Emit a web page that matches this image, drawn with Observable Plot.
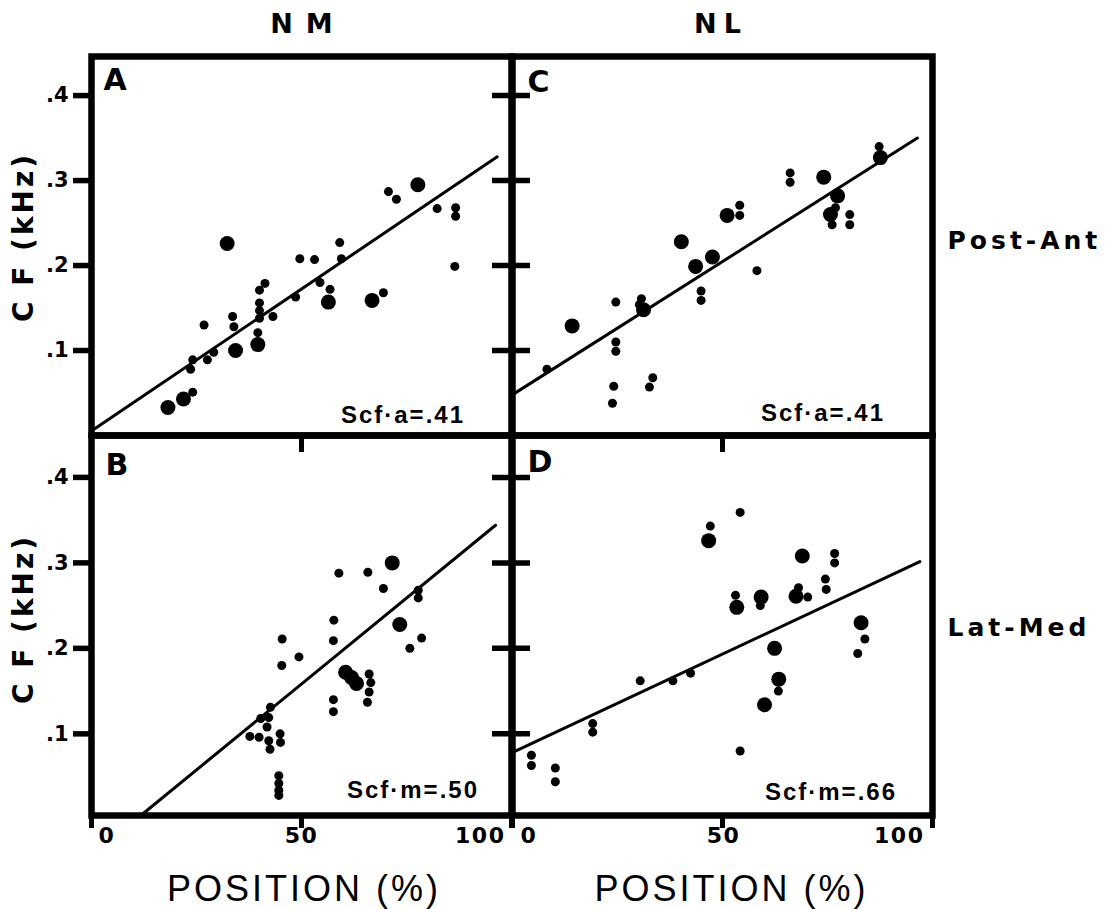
<!DOCTYPE html>
<html>
<head>
<meta charset="utf-8">
<script src="https://cdn.jsdelivr.net/npm/d3@7"></script>
<script src="https://cdn.jsdelivr.net/npm/@observablehq/plot@0.6"></script>
<style>
  html, body { margin: 0; padding: 0; background: #fff; }
  #chart { position: relative; width: 1113px; height: 909px; overflow: hidden; background: #fff; }
  #chart svg { position: absolute; left: 0; top: 0; }
</style>
</head>
<body>
<div id="chart"></div>
<script>
// ---------- data ----------
const columns = ["NM", "NL"];
const rows = ["Post-Ant", "Lat-Med"];
const panelLetters = ["A", "C", "B", "D"];
const slopeNotes = ["Scf·a=.41", "Scf·a=.41", "Scf·m=.50", "Scf·m=.66"];
const xTicks = [0, 50, 100];
const yTicks = [0.1, 0.2, 0.3, 0.4];
const xLabel = "POSITION (%)";
const yLabel = "C F (kHz)";

// [position (%), CF (kHz), dot class: 1 = small, 2 = large]
const NM_PostAnt = [
  [18.2,.033,2],[21.9,.043,2],[24.1,.051,1],[23.6,.078,1],[24.1,.089,1],[27.6,.089,1],[29.1,.098,1],
  [26.8,.130,1],[34.3,.100,2],[32.3,.226,2],[33.6,.140,1],[33.9,.128,1],[39.6,.107,2],[39.6,.121,1],
  [40.0,.171,1],[41.3,.179,1],[40.0,.156,1],[40.0,.147,1],[40.0,.138,1],[43.2,.140,1],[48.6,.163,1],
  [49.6,.208,1],[53.1,.207,1],[54.4,.180,1],[56.8,.172,1],[56.4,.157,2],[59.1,.227,1],[59.5,.208,1],
  [66.8,.159,2],[69.5,.168,1],[70.7,.287,1],[72.6,.278,1],[77.7,.295,2],[82.3,.267,1],[86.7,.268,1],
  [86.7,.258,1],[86.5,.199,1]
];
const NL_PostAnt = [
  [8.2,.078,1],[14.2,.129,2],[24.6,.157,1],[24.6,.110,1],[24.6,.099,1],[24.1,.058,1],[23.8,.038,1],
  [30.7,.161,1],[31.2,.148,2],[30.2,.154,1],[33.4,.068,1],[32.6,.057,1],[40.2,.228,2],[43.6,.199,2],
  [47.6,.210,2],[44.9,.170,1],[44.9,.159,1],[51.1,.259,2],[54.1,.271,1],[54.1,.259,1],[58.2,.194,1],
  [66.1,.309,1],[66.1,.298,1],[74.1,.304,2],[77.4,.282,2],[76.9,.268,1],[75.7,.260,2],[76.1,.248,1],
  [80.3,.260,1],[80.3,.248,1],[87.3,.340,1],[87.6,.327,2]
];
const NM_LatMed = [
  [37.7,.097,1],[39.9,.096,1],[40.3,.118,1],[42.6,.131,1],[42.2,.119,1],[41.8,.108,1],[42.2,.092,1],
  [42.5,.082,1],[44.9,.100,1],[45.0,.090,1],[44.6,.051,1],[44.6,.042,1],[44.6,.034,1],[44.6,.028,1],
  [45.4,.211,1],[45.3,.180,1],[49.4,.190,1],[57.7,.233,1],[57.6,.209,1],[58.9,.288,1],[57.6,.140,1],
  [57.6,.126,1],[60.5,.172,2],[61.9,.166,2],[63.1,.159,2],[66.1,.170,1],[66.5,.160,1],[66.1,.149,1],
  [65.7,.137,1],[65.8,.289,1],[71.6,.300,2],[69.5,.270,1],[73.4,.228,2],[75.8,.200,1],[78.6,.212,1],
  [77.8,.268,1],[77.8,.259,1]
];
const NL_LatMed = [
  [4.5,.075,1],[4.5,.063,1],[10.2,.060,1],[10.2,.044,1],[19.1,.112,1],[19.1,.102,1],[30.4,.162,1],
  [38.2,.162,1],[42.4,.171,1],[47.1,.343,1],[46.7,.326,2],[54.2,.359,1],[54.2,.080,1],[53.1,.262,1],
  [53.4,.248,2],[59.2,.260,2],[59.0,.250,1],[60.0,.134,2],[62.4,.200,2],[63.4,.164,2],[63.3,.150,1],
  [69.0,.308,2],[68.1,.271,1],[67.5,.261,2],[70.3,.260,1],[74.5,.281,1],[74.7,.269,1],[76.7,.311,1],
  [76.7,.300,1],[83.0,.230,2],[83.9,.211,1],[82.2,.194,1]
];

// regression line end points [position, CF]
const fit_NM_PostAnt = [[0.5,.007],[96.6,.328]];
const fit_NL_PostAnt = [[0.3,.049],[96.4,.350]];
const fit_NM_LatMed  = [[12.1,.006],[96.2,.344]];
const fit_NL_LatMed  = [[0.3,.079],[97.0,.3015]];

// ---------- layout ----------
const W = 1113, H = 909;
const colGeom = [{ml: 91, mr: 602}, {ml: 512, mr: 181}];
const rowGeom = [{mt: 56, mb: 474, y: [0, 0.446]}, {mt: 435, mb: 94, y: [0.0045, 0.449]}];
const BOLD = "DejaVu Sans";
const fmtY = d => d3.format(".1f")(d).replace(/^0/, "");

const panels = [
  {pts: NM_PostAnt, fit: fit_NM_PostAnt, col: 0, row: 0, i: 0, lx: 12, ly: 12, nx: -46.5, ny: -13},
  {pts: NL_PostAnt, fit: fit_NL_PostAnt, col: 1, row: 0, i: 1, lx: 15, ly: 14, nx: -47.5, ny: -15},
  {pts: NM_LatMed,  fit: fit_NM_LatMed,  col: 0, row: 1, i: 2, lx: 14, ly: 18, nx: -32.5, ny: -18},
  {pts: NL_LatMed,  fit: fit_NL_LatMed,  col: 1, row: 1, i: 3, lx: 15, ly: 15, nx: -35.5, ny: -16}
];

function build(p) {
  const cg = colGeom[p.col], rg = rowGeom[p.row];
  const yDom = rg.y;
  const marks = [
    Plot.frame({strokeWidth: 6.5, stroke: "#000"}),
    Plot.line(p.fit, {x: d => d[0], y: d => d[1], stroke: "#000", strokeWidth: 3}),
    Plot.dot(p.pts, {x: d => d[0], y: d => d[1], r: d => d[2], fill: "#000"}),
    Plot.text([panelLetters[p.i]], {text: d => d, frameAnchor: "top-left", textAnchor: "start", lineAnchor: "top",
      dx: p.lx, dy: p.ly, fontSize: 30, fontWeight: "bold", fontFamily: BOLD}),
    Plot.text([slopeNotes[p.i]], {text: d => d, frameAnchor: "bottom-right", textAnchor: "end", lineAnchor: "bottom",
      dx: p.nx, dy: p.ny, fontSize: 24, fontWeight: "bold", fontFamily: "Liberation Sans", ariaDescription: "ls-2"})
  ];
  if (p.col === 0) {
    marks.push(Plot.ruleY(yTicks, {y: d => d, x1: xTicks[0], x2: xTicks[0], insetLeft: -18, strokeWidth: 5.5}));
    marks.push(Plot.text(yTicks, {y: d => d, frameAnchor: "left", dx: -23, textAnchor: "end", lineAnchor: "middle",
      text: fmtY, fontSize: 21, fontWeight: "bold", fontFamily: BOLD}));
    marks.push(Plot.text([yLabel], {text: d => d, frameAnchor: "left", textAnchor: "middle", lineAnchor: "middle",
      rotate: -90, dx: -67.5, dy: p.row === 0 ? -9 : -6.5, fontSize: 28, fontWeight: "bold", fontFamily: BOLD,
      ariaDescription: "ls-3"}));
  } else {
    marks.push(Plot.ruleY(yTicks, {y: d => d, x1: xTicks[0], x2: xTicks[0], insetLeft: -20, insetRight: -18, strokeWidth: 5.5}));
    marks.push(Plot.text([rows[p.row]], {text: d => d, frameAnchor: "right", textAnchor: "start", lineAnchor: "middle",
      dx: 15, dy: p.row === 0 ? -5.5 : 2, fontSize: 25, fontWeight: "bold", fontFamily: BOLD, ariaDescription: "ls-4"}));
  }
  if (p.row === 0) {
    marks.push(Plot.text([columns[p.col]], {text: d => d, frameAnchor: "top", textAnchor: "middle", lineAnchor: "middle",
      dy: -32, dx: p.col === 0 ? 6.5 : -1.5, fontSize: 27, fontWeight: "bold", fontFamily: BOLD,
      ariaDescription: p.col === 0 ? "ls-13" : "ls-7"}));
  } else {
    marks.push(Plot.ruleX(xTicks, {x: d => d, y1: yDom[0], y2: yDom[0], insetBottom: -13, strokeWidth: 5}));
    marks.push(Plot.ruleX([xTicks[1]], {x: d => d, y1: yDom[1], y2: yDom[1], insetBottom: -17, strokeWidth: 5}));
    const off = p.col === 0 ? [7, 0, -6] : [8, 1, -8];
    const anchors = ["start", "middle", "end"];
    xTicks.forEach((t, k) => {
      marks.push(Plot.text([t], {x: d => d, text: d => String(d), frameAnchor: "bottom", lineAnchor: "middle",
        dy: 20, dx: off[k], textAnchor: anchors[k], fontSize: 22, fontWeight: "bold", fontFamily: BOLD,
        ariaDescription: "ls-1.5"}));
    });
    marks.push(Plot.text([xLabel], {text: d => d, frameAnchor: "bottom", textAnchor: "middle", lineAnchor: "middle",
      dy: 74, dx: p.col === 0 ? 2.5 : 9, fontSize: 36, fontFamily: "Liberation Sans", fontWeight: "normal",
      ariaDescription: "ls-3"}));
  }
  const svg = Plot.plot({
    width: W, height: H,
    marginLeft: cg.ml, marginRight: cg.mr, marginTop: rg.mt, marginBottom: rg.mb,
    x: {domain: [0, 100], axis: null},
    y: {domain: yDom, axis: null},
    r: {type: "linear", domain: [1, 2], range: [4.5, 7.5]},
    style: {background: "transparent", color: "#000", position: "absolute", left: "0px", top: "0px", maxWidth: "none"},
    marks
  });
  svg.querySelectorAll("[aria-description^='ls-']").forEach(g => {
    g.style.letterSpacing = g.getAttribute("aria-description").slice(3) + "px";
  });
  return svg;
}

const host = document.getElementById("chart");
panels.forEach(p => host.appendChild(build(p)));
</script>
</body>
</html>
